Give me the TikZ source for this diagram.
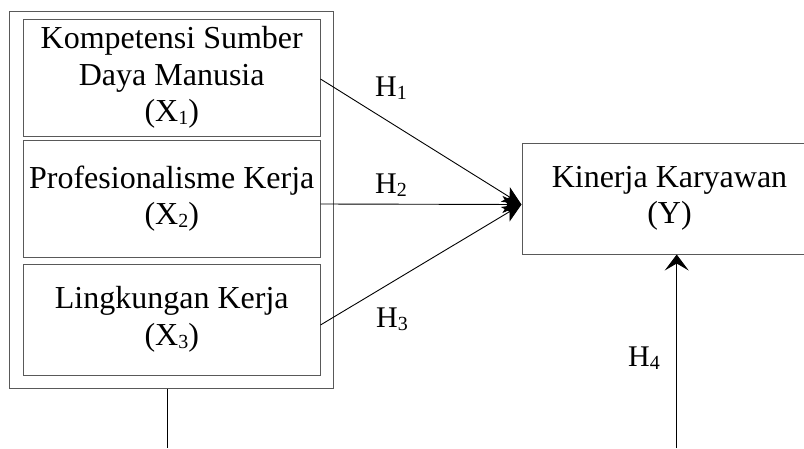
\documentclass[tikz,border=0pt]{standalone}
\usepackage{fontspec}
\setmainfont{Liberation Serif}
\usetikzlibrary{arrows.meta}

% small lowered index used in the variable names
\newcommand\idx[1]{\raisebox{-0.1em}{\fontsize{20}{20}\selectfont #1}}

\begin{document}
\begin{tikzpicture}[x=1pt,y=-1pt,
  varbox/.style={draw=black!65, line width=1pt, rectangle, inner sep=0pt,
    align=center, font=\fontsize{32}{36.5}\selectfont},
  hyplabel/.style={anchor=base west, inner sep=0pt, font=\fontsize{30}{30}\selectfont},
  path/.style={draw=black, line width=0.9pt},
  headA/.style={-{Stealth[length=19pt,width=17pt,inset=5pt]}},
  headB/.style={-{Stealth[length=16pt,width=24pt,inset=7pt]}}]
  \useasboundingbox (0,0) rectangle (804,448);

  % frame around the three independent variables
  \node[varbox, minimum width=324pt, minimum height=377pt] (outer) at (171,199.5) {};

  \node[varbox, minimum width=296.5pt, minimum height=117pt] (box1) at (171.75,77.5)
    {Kompetensi Sumber\\Daya Manusia\\(X\idx{1})};
  \node[varbox, minimum width=296.5pt, minimum height=117pt] (box2) at (171.75,198.5)
    {Profesionalisme Kerja\\(X\idx{2})};
  \node[varbox, minimum width=296.5pt, minimum height=111pt] (box3) at (171.75,319.5)
    {Lingkungan Kerja\\(X\idx{3})};

  % dependent variable
  \node[varbox, minimum width=295pt, minimum height=111pt] (y) at (669.5,198.5)
    {Kinerja Karyawan\\(Y)};

  \coordinate (tip) at ([yshift=-6pt]y.west);
  \coordinate (b1) at (167.7,448);
  \coordinate (b2) at (676.7,448);

  % hypotheses
  \draw[path, headA] ([yshift=-1.5pt]box1.east) -- (tip);
  \draw[path, headA] ([yshift=-5.5pt]box2.east) -- (tip);
  \draw[path, headA] ([yshift=-5.5pt]box3.east) -- (tip);
  \draw[path] (outer.south -| b1) -- (b1);
  \draw[path, headB] (b2) -- (y.south -| b2);

  \node[hyplabel] (h1) at (375,96) {H\idx{1}};
  \node[hyplabel] (h2) at (375,193) {H\idx{2}};
  \node[hyplabel] (h3) at (376,327) {H\idx{3}};
  \node[hyplabel] (h4) at (628,366.5) {H\idx{4}};
\end{tikzpicture}
\end{document}
